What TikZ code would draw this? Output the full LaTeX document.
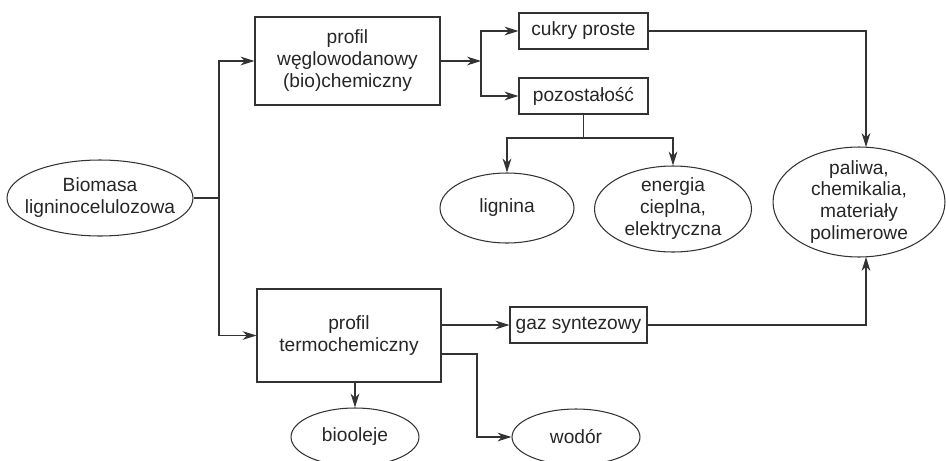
\documentclass[tikz,border=0pt]{standalone}
\usepackage{fontspec}
\setmainfont{Liberation Sans}
\usetikzlibrary{arrows.meta,shapes.geometric}
\begin{document}
\begin{tikzpicture}[x=0.02cm,y=-0.02cm,line width=0.6pt,black!80,
	every node/.style={font=\fontsize{10.9}{12.5}\selectfont,align=center,text=black!85},
	box/.style={draw,rectangle,inner sep=0pt},
	oval/.style={draw,ellipse,inner sep=-25pt},
	arr/.style={-{Stealth[length=8pt,width=5pt,inset=2.5pt]}}]
	
	\useasboundingbox (0,0) rectangle (946,460);
	
	\node[oval,minimum width=3.72cm,minimum height=1.52cm] (biomasa) at (100,198) {Biomasa\\ligninocelulozowa};
	
	\node[box,minimum width=3.7cm,minimum height=1.76cm] (bio) at (347.5,61) {profil\\węglowodanowy\\(bio)chemiczny};
	\node[box,minimum width=3.68cm,minimum height=1.86cm] (termo) at (349,335.5) {profil\\termochemiczny};
	
	\node[box,minimum width=2.58cm,minimum height=0.72cm] (cukry) at (583.5,31) {cukry proste};
	\node[box,minimum width=2.58cm,minimum height=0.72cm] (pozost) at (583.5,96) {pozostałość};
	\node[box,minimum width=2.74cm,minimum height=0.72cm] (gaz) at (578.5,325) {gaz syntezowy};
	
	\node[oval,minimum width=2.68cm,minimum height=1.4cm] (lignina) at (507,208) {lignina};
	\node[oval,minimum width=3.14cm,minimum height=1.72cm] (energia) at (673,209) {energia\\cieplna,\\elektryczna};
	\node[oval,minimum width=3.44cm,minimum height=2.2cm] (paliwa) at (859,202) {paliwa,\\chemikalia,\\materiały\\polimerowe};
	\node[oval,minimum width=2.56cm,minimum height=1.16cm] (biooleje) at (355,437) {biooleje};
	\node[oval,minimum width=2.56cm,minimum height=1.12cm] (wodor) at (576,437) {wodór};
	
	\coordinate (trunk) at (219,198);
	\coordinate (split) at (481,61);
	\coordinate (fork) at (583.5,138);
	\coordinate (paltop) at (866,147);
	\coordinate (palbot) at (866,257);
	\coordinate (bend) at (477,354);
	
	\draw (biomasa) -- (trunk);
	\draw[arr] (trunk) |- (bio.west);
	\draw[arr] (trunk) |- (termo.west);
	
	\draw[arr] (bio) -- (split);
	\draw[arr] (split) |- (cukry);
	\draw[arr] (split) |- (pozost);
	
	\draw (pozost) -- (fork);
	\draw[arr] (fork) -| (lignina);
	\draw[arr] (fork) -| (energia);
	
	\draw[arr] (cukry) -| (paltop);
	\draw[arr] (gaz) -| (palbot);
	
	\draw[arr] (termo.east |- gaz) -- (gaz);
	\draw[arr] (termo.east |- bend) -- (bend) |- (wodor);
	\draw[arr] (termo.south -| biooleje) -- (biooleje);
	
\end{tikzpicture}
\end{document}
